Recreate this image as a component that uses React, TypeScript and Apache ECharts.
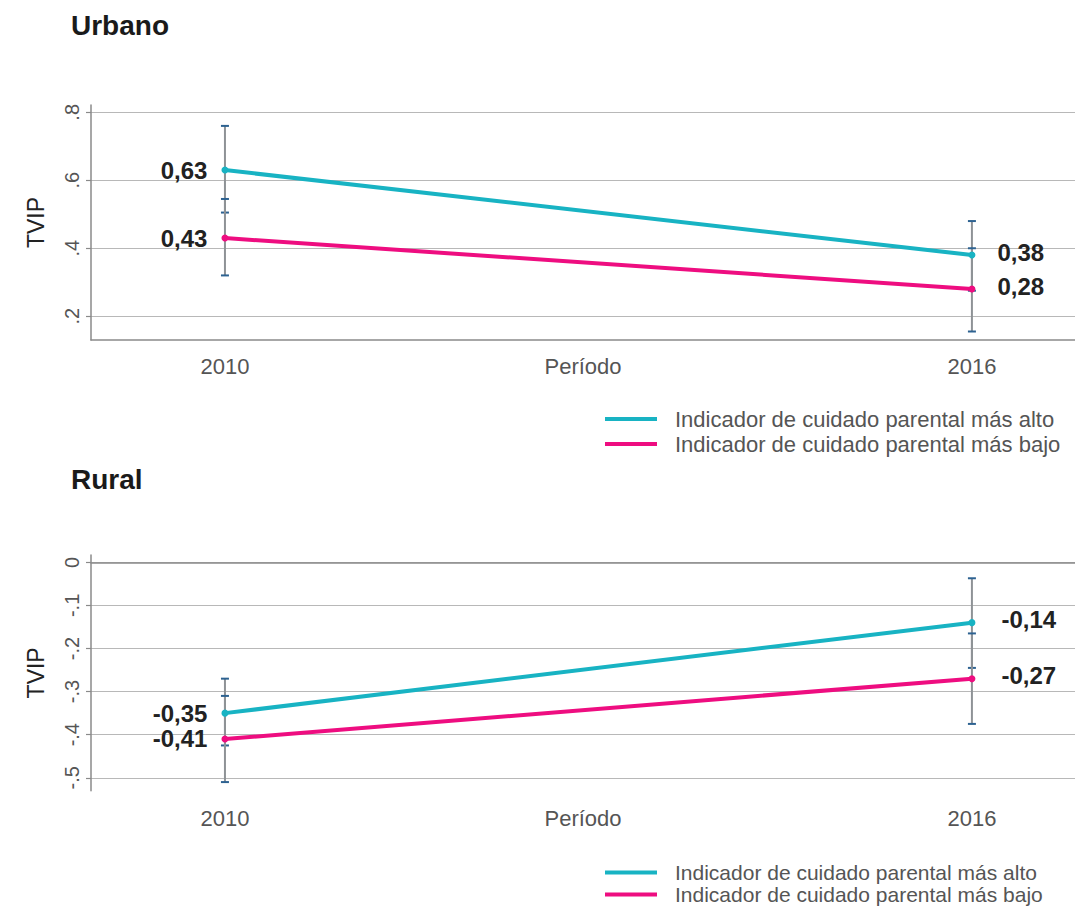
import React, { useEffect, useRef } from "react";
import * as echarts from "echarts";

// Survey waves
const years = [2010, 2016];

const seriesNames = [
  "Indicador de cuidado parental más alto",
  "Indicador de cuidado parental más bajo",
];

// Urban: point estimates and confidence bounds
const urbanHigh = [0.63, 0.38];
const urbanHighLower = [0.505, 0.275];
const urbanHighUpper = [0.76, 0.48];
const urbanLow = [0.43, 0.28];
const urbanLowLower = [0.32, 0.155];
const urbanLowUpper = [0.545, 0.4];

// Rural: point estimates and confidence bounds
const ruralHigh = [-0.35, -0.14];
const ruralHighLower = [-0.425, -0.245];
const ruralHighUpper = [-0.27, -0.037];
const ruralLow = [-0.41, -0.27];
const ruralLowLower = [-0.51, -0.375];
const ruralLowUpper = [-0.31, -0.165];

// Y tick labels
const urbanTicks = [0.2, 0.4, 0.6, 0.8];
const ruralTicks = [-0.5, -0.4, -0.3, -0.2, -0.1, 0];

const TEAL = "#18b3c3";
const PINK = "#ee0d80";
const FONT = "'Liberation Sans', Arial, Helvetica, sans-serif";

const tickFmt = (v: number) => {
  if (Math.abs(v) < 1e-9) return "0";
  const s = Math.abs(v).toFixed(1).replace(/^0/, "");
  return (v < 0 ? "-" : "") + s;
};
const valueFmt = (v: number) => v.toFixed(2).replace(".", ",");

const errorBarItem = (_params: any, api: any) => {
  const x = api.value(0);
  const lo = api.coord([x, api.value(1)]);
  const hi = api.coord([x, api.value(2)]);
  const cap = 4;
  return {
    type: "group",
    children: [
      {
        type: "line",
        shape: { x1: lo[0], y1: lo[1], x2: hi[0], y2: hi[1] },
        style: { stroke: "#8e9296", lineWidth: 2 },
      },
      {
        type: "line",
        shape: { x1: lo[0] - cap, y1: lo[1], x2: lo[0] + cap, y2: lo[1] },
        style: { stroke: "#2d6291", lineWidth: 2 },
      },
      {
        type: "line",
        shape: { x1: hi[0] - cap, y1: hi[1], x2: hi[0] + cap, y2: hi[1] },
        style: { stroke: "#2d6291", lineWidth: 2 },
      },
    ],
  };
};

const errorSeries = (axis: number, lower: number[], upper: number[]) => ({
  type: "custom",
  xAxisIndex: axis,
  yAxisIndex: axis,
  z: 2,
  renderItem: errorBarItem,
  encode: { x: 0, y: [1, 2] },
  data: years.map((y, i) => [y, lower[i], upper[i]]),
  silent: true,
});

const lineSeries = (
  axis: number,
  name: string,
  color: string,
  values: number[],
  rightDist: number
) => ({
  type: "line",
  name,
  xAxisIndex: axis,
  yAxisIndex: axis,
  z: 3,
  symbol: "circle",
  symbolSize: 7,
  itemStyle: { color },
  lineStyle: { color, width: 4 },
  label: {
    show: true,
    fontFamily: FONT,
    fontSize: 24,
    fontWeight: "bold",
    color: "#222",
    formatter: (p: any) => valueFmt(p.value[1]),
  },
  data: years.map((y, i) =>
    i === 0
      ? { value: [y, values[i]], label: { position: "left", distance: 14 } }
      : {
          value: [y, values[i]],
          label: { position: "right", distance: rightDist, offset: [0, -3] },
        }
  ),
});

const xAxisFor = (grid: number, gap: number) => ({
  type: "value",
  gridIndex: grid,
  min: 2008.924,
  max: 2016.828,
  axisLine: { show: true, lineStyle: { color: "#8a8a8a", width: 1.5 } },
  axisTick: { show: false, customValues: years },
  splitLine: { show: false },
  axisLabel: {
    customValues: years,
    fontFamily: FONT,
    fontSize: 22,
    color: "#555",
    margin: gap,
    formatter: (v: number) => String(v),
  },
  name: "Período",
  nameLocation: "middle",
  nameGap: gap,
  nameMoveOverlap: false,
  nameTextStyle: { fontFamily: FONT, fontSize: 22, color: "#555" },
});

const yAxisFor = (grid: number, min: number, max: number, ticks: number[]) => ({
  type: "value",
  gridIndex: grid,
  min,
  max,
  axisLine: { show: true, lineStyle: { color: "#8a8a8a", width: 1.5 } },
  axisTick: {
    show: true,
    length: 5,
    customValues: ticks,
    lineStyle: { color: "#8a8a8a", width: 1.2 },
  },
  axisLabel: {
    customValues: ticks,
    rotate: 90,
    margin: 9,
    fontFamily: FONT,
    fontSize: 20,
    color: "#555",
    formatter: tickFmt,
  },
  splitLine: { show: true, lineStyle: { color: "#b8b8b8", width: 1.2 } },
  name: "TVIP",
  nameLocation: "middle",
  nameRotate: 90,
  nameGap: 44,
  nameMoveOverlap: false,
  nameTextStyle: { fontFamily: FONT, fontSize: 23, color: "#222" },
});

// One legend row per entry so each row can be placed on its own
const legendRow = (name: string, top: number, size: number) => ({
  data: [name],
  orient: "horizontal",
  left: 605,
  top,
  padding: 0,
  icon: "rect",
  itemWidth: 52,
  itemHeight: 4,
  selectedMode: false,
  textStyle: {
    fontFamily: FONT,
    fontSize: size,
    color: "#555",
    padding: [0, 0, 0, 13],
  },
});

const option: any = {
  animation: false,
  backgroundColor: "#fff",
  textStyle: { fontFamily: FONT },
  title: [
    {
      text: "Urbano",
      left: 71,
      top: 11,
      padding: 0,
      textStyle: { fontFamily: FONT, fontSize: 28, fontWeight: "bold", color: "#1a1a1a" },
    },
    {
      text: "Rural",
      left: 71,
      top: 465,
      padding: 0,
      textStyle: { fontFamily: FONT, fontSize: 28, fontWeight: "bold", color: "#1a1a1a" },
    },
  ],
  legend: [
    legendRow(seriesNames[0], 408, 22),
    legendRow(seriesNames[1], 433, 22),
    legendRow(seriesNames[0], 862, 21),
    legendRow(seriesNames[1], 884, 21),
  ],
  grid: [
    { left: 91, top: 105, width: 984, height: 235 },
    { left: 91, top: 555, width: 984, height: 235.7 },
  ],
  xAxis: [xAxisFor(0, 15), xAxisFor(1, 17)],
  yAxis: [
    yAxisFor(0, 0.13, 0.8215, urbanTicks),
    yAxisFor(1, -0.53, 0.017, ruralTicks),
  ],
  series: [
    errorSeries(0, urbanHighLower, urbanHighUpper),
    errorSeries(0, urbanLowLower, urbanLowUpper),
    lineSeries(0, seriesNames[0], TEAL, urbanHigh, 22),
    lineSeries(0, seriesNames[1], PINK, urbanLow, 22),
    errorSeries(1, ruralHighLower, ruralHighUpper),
    errorSeries(1, ruralLowLower, ruralLowUpper),
    lineSeries(1, seriesNames[0], TEAL, ruralHigh, 26),
    lineSeries(1, seriesNames[1], PINK, ruralLow, 26),
  ],
};

export default function App() {
  const ref = useRef<HTMLDivElement>(null);
  useEffect(() => {
    const chart = echarts.init(ref.current!, null, { renderer: "svg" });
    chart.setOption(option);
    return () => chart.dispose();
  }, []);
  return (
    <div
      ref={ref}
      style={{
        position: "fixed",
        left: 0,
        top: 0,
        width: 1075,
        height: 907,
        background: "#fff",
      }}
    />
  );
}
